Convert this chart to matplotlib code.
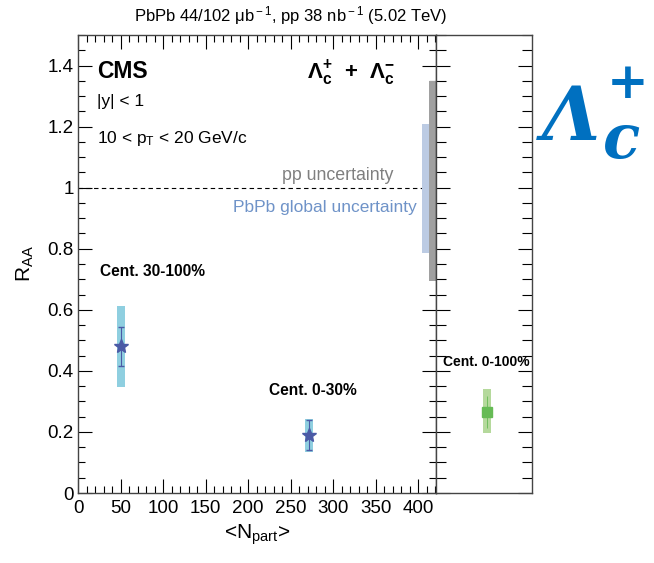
import matplotlib.pyplot as plt
from matplotlib.patches import Rectangle
from matplotlib.ticker import MultipleLocator

plt.rcParams['font.family'] = ['Liberation Sans', 'DejaVu Sans']
plt.rcParams['mathtext.fontset'] = 'custom'
plt.rcParams['mathtext.rm'] = 'Liberation Sans'
plt.rcParams['mathtext.it'] = 'Liberation Sans:italic'
plt.rcParams['mathtext.bf'] = 'Liberation Sans:bold'

# centrality classes (Npart, RAA, stat error, syst low, syst high)
cent_labels = ["Cent. 30-100%", "Cent. 0-30%"]
npart = [50, 272]
raa = [0.48, 0.19]
stat_err = [0.065, 0.048]
syst_lo = [0.348, 0.135]
syst_hi = [0.613, 0.242]

# minimum bias 0-100%
mb_raa = 0.266
mb_stat = 0.052
mb_syst = [0.197, 0.341]

# global uncertainties around 1
pp_unc = [0.695, 1.348]
pbpb_unc = [0.787, 1.21]

fig = plt.figure(figsize=(6.54, 5.63), dpi=100)
ax = fig.add_axes([78/654, 1-493/563, 358/654, 458/563])
ax2 = fig.add_axes([436/654, 1-493/563, 96/654, 458/563])

ax.set_xlim(0, 421)
ax.set_ylim(0, 1.5)
ax2.set_xlim(0, 1)
ax2.set_ylim(0, 1.5)

boxc = '#8fcfe0'
starc = '#4b5aa6'
for i in range(len(npart)):
    ax.add_patch(Rectangle((npart[i]-4.7, syst_lo[i]), 9.4, syst_hi[i]-syst_lo[i],
                           facecolor=boxc, edgecolor='none', zorder=2))
    ax.errorbar(npart[i], raa[i], yerr=stat_err[i], fmt='*', color=starc,
                markersize=10, capsize=2.5, elinewidth=0.8, zorder=3)

ax.add_patch(Rectangle((413, pp_unc[0]), 8, pp_unc[1]-pp_unc[0],
                       facecolor='#a0a0a0', edgecolor='none', zorder=2))
ax.add_patch(Rectangle((404, pbpb_unc[0]), 9, pbpb_unc[1]-pbpb_unc[0],
                       facecolor='#bccbe3', edgecolor='none', zorder=2))
ax.axhline(1.0, color='black', linestyle='--', linewidth=0.8, dashes=(4, 3), zorder=1)

ax2.add_patch(Rectangle((0.49, mb_syst[0]), 0.085, mb_syst[1]-mb_syst[0],
                        facecolor='#b5d99c', edgecolor='none', zorder=2))
ax2.errorbar(0.532, mb_raa, yerr=mb_stat, fmt='s', color='#66bb55',
             markersize=7, elinewidth=0.6, capsize=0, zorder=3)

# ticks
ax.xaxis.set_major_locator(MultipleLocator(50))
ax.xaxis.set_minor_locator(MultipleLocator(10))
ax.yaxis.set_major_locator(MultipleLocator(0.2))
ax.yaxis.set_minor_locator(MultipleLocator(0.05))
ax.tick_params(which='both', direction='in', top=True, right=True, labelsize=13.5)
ax.tick_params(which='major', length=10, width=0.8)
ax.tick_params(which='minor', length=5, width=0.8)
ax.tick_params(axis='y', pad=3)
ax.tick_params(axis='x', pad=5)
ax.set_yticks([0, 0.2, 0.4, 0.6, 0.8, 1.0, 1.2, 1.4])
ax.set_yticklabels(['0', '0.2', '0.4', '0.6', '0.8', '1', '1.2', '1.4'])

ax2.set_xticks([])
ax2.yaxis.set_major_locator(MultipleLocator(0.2))
ax2.yaxis.set_minor_locator(MultipleLocator(0.05))
ax2.tick_params(which='both', direction='in', left=True, right=True, labelleft=False)
ax2.tick_params(which='major', length=10, width=0.8)
ax2.tick_params(which='minor', length=7, width=0.8)

for a in (ax, ax2):
    for s in a.spines.values():
        s.set_linewidth(1.0)
        s.set_color('#444444')

ax.set_xlabel(r'<N$_{\rm part}$>', fontsize=15, labelpad=4)
ax.set_ylabel(r'R$_{\rm AA}$', fontsize=15, labelpad=8)

ax.text(22, 1.38, 'CMS', fontsize=16.5, fontweight='bold', va='center')
ax.text(22, 1.283, '|y| < 1', fontsize=12.5, va='center')
ax.text(22, 1.162, r'10 < p$_{\rm T}$ < 20 GeV/c', fontsize=12.5, va='center')
ax.text(373, 1.375, r'$\mathbf{\Lambda_{c}^{+}}$  +  $\mathbf{\Lambda_{c}^{-}}$',
        fontsize=16, fontweight='bold', ha='right', va='center')
ax.text(371, 1.04, 'pp uncertainty', fontsize=12.8, color='#7f7f7f', ha='right', va='center')
ax.text(398, 0.935, 'PbPb global uncertainty', fontsize=12.5, color='#6f93c8', ha='right', va='center')
ax.text(26, 0.727, cent_labels[0], fontsize=11.2, fontweight='bold', va='center')
ax.text(225, 0.335, cent_labels[1], fontsize=11.2, fontweight='bold', va='center')
ax2.text(0.07, 0.43, 'Cent. 0-100%', fontsize=10, fontweight='bold', va='center', clip_on=False)

fig.text(0.445, 0.972, 'PbPb 44/102 μb$^{\\rm -1}$, pp 38 nb$^{\\rm -1}$ (5.02 TeV)',
         fontsize=12, ha='center', va='center')

# big logo
logo = dict(fontfamily='DejaVu Serif', style='italic', fontweight='bold', color='#0070c0')
fig.text(542/654, 1-140/563, 'Λ', fontsize=54, va='baseline', **logo)
fig.text(603/654, 1-158/563, 'c', fontsize=44, va='baseline', **logo)
fig.text(628/654, 1-84/563, '+', fontsize=36, fontfamily='DejaVu Serif',
         fontweight='bold', color='#0070c0', va='center', ha='center')

fig.savefig('out.png', dpi=100)
